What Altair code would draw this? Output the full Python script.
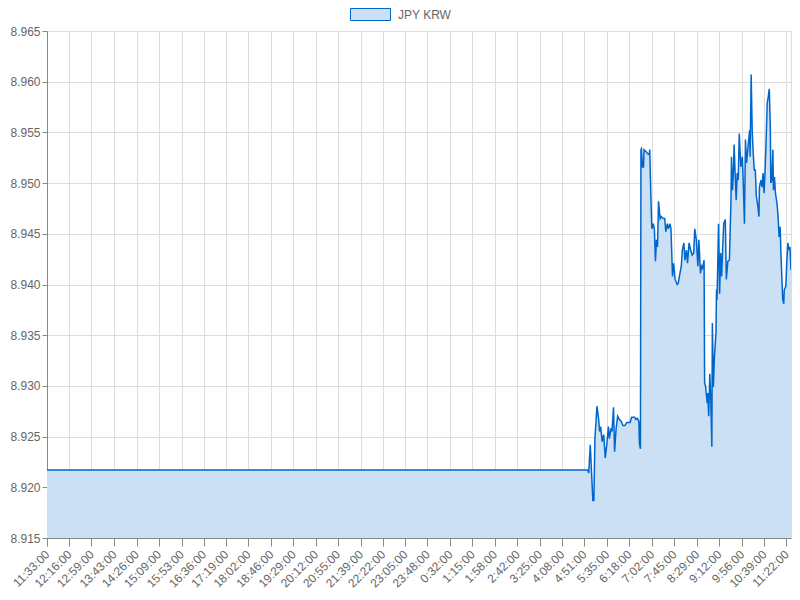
import altair as alt
import pandas as pd

SERIES = "JPY KRW"

tick_labels = ["11:33:00", "12:16:00", "12:59:00", "13:43:00", "14:26:00", "15:09:00",
               "15:53:00", "16:36:00", "17:19:00", "18:02:00", "18:46:00", "19:29:00",
               "20:12:00", "20:55:00", "21:39:00", "22:22:00", "23:05:00", "23:48:00",
               "0:32:00", "1:15:00", "1:58:00", "2:42:00", "3:25:00", "4:08:00",
               "4:51:00", "5:35:00", "6:18:00", "7:02:00", "7:45:00", "8:29:00",
               "9:12:00", "9:56:00", "10:39:00", "11:22:00"]

y_ticks = [8.915, 8.920, 8.925, 8.930, 8.935, 8.940, 8.945, 8.950, 8.955, 8.960, 8.965]

# minutes elapsed since 11:33:00
minutes = [0, 1045, 1047, 1050, 1055, 1057, 1059, 1063, 1066, 1068, 1070, 1073, 1076, 1079,
           1082, 1085, 1087, 1090, 1092, 1095, 1097, 1100, 1103, 1106, 1110, 1113, 1117,
           1121, 1127, 1130, 1136, 1138, 1141, 1144, 1145, 1147, 1148, 1149, 1151, 1153,
           1154, 1158, 1161, 1164, 1165, 1167, 1169, 1172, 1174, 1176, 1178, 1180, 1182,
           1185, 1187, 1191, 1194, 1196, 1199, 1201, 1204, 1206, 1209, 1211, 1214, 1218,
           1220, 1223, 1226, 1228, 1231, 1233, 1236, 1238, 1241, 1244, 1247, 1250, 1252,
           1255, 1258, 1260, 1263, 1265, 1267, 1270, 1271, 1273, 1276, 1277, 1279, 1281,
           1283, 1285, 1286, 1288, 1290, 1293, 1294, 1295, 1298, 1300, 1302, 1304, 1306,
           1308, 1311, 1313, 1316, 1319, 1321, 1322, 1323, 1325, 1327, 1328, 1330, 1332,
           1334, 1336, 1338, 1341, 1344, 1346, 1348, 1350, 1352, 1355, 1358, 1359, 1361,
           1363, 1365, 1367, 1369, 1371, 1374, 1376, 1377, 1380, 1382, 1384, 1386, 1388,
           1390, 1392, 1394, 1396, 1398, 1399, 1401, 1403, 1404, 1406, 1408, 1410, 1411,
           1413, 1415, 1417, 1419, 1422, 1424, 1425, 1428, 1430, 1432, 1434, 1436, 1438]

values = [8.9217, 8.9217, 8.9214, 8.9242, 8.9187, 8.9187, 8.9248, 8.9280, 8.9268, 8.9255,
          8.9260, 8.9245, 8.9252, 8.9229, 8.9242, 8.9260, 8.9248, 8.9258, 8.9255, 8.9279,
          8.9235, 8.9258, 8.9270, 8.9267, 8.9265, 8.9261, 8.9261, 8.9264, 8.9264, 8.9269,
          8.9269, 8.9267, 8.9268, 8.9265, 8.9243, 8.9238, 8.9533, 8.9534, 8.9516, 8.9516,
          8.9533, 8.9531, 8.9529, 8.9528, 8.9533, 8.9490, 8.9455, 8.9460, 8.9454, 8.9423,
          8.9444, 8.9437, 8.9482, 8.9465, 8.9467, 8.9465, 8.9465, 8.9452, 8.9460, 8.9455,
          8.9460, 8.9455, 8.9408, 8.9421, 8.9405, 8.9400, 8.9401, 8.9410, 8.9418, 8.9434,
          8.9441, 8.9424, 8.9434, 8.9421, 8.9441, 8.9434, 8.9429, 8.9431, 8.9455, 8.9444,
          8.9418, 8.9444, 8.9411, 8.9418, 8.9416, 8.9424, 8.9303, 8.9299, 8.9283, 8.9293,
          8.9270, 8.9312, 8.9286, 8.9240, 8.9362, 8.9299, 8.9329, 8.9352, 8.9395, 8.9385,
          8.9460, 8.9391, 8.9431, 8.9408, 8.9437, 8.9460, 8.9464, 8.9405, 8.9423, 8.9424,
          8.9464, 8.9483, 8.9526, 8.9493, 8.9516, 8.9538, 8.9510, 8.9483, 8.9510, 8.9503,
          8.9549, 8.9516, 8.9526, 8.9496, 8.9460, 8.9543, 8.9520, 8.9536, 8.9552, 8.9526,
          8.9607, 8.9552, 8.9529, 8.9513, 8.9513, 8.9487, 8.9477, 8.9467, 8.9496, 8.9503,
          8.9496, 8.9510, 8.9490, 8.9513, 8.9543, 8.9579, 8.9585, 8.9593, 8.9556, 8.9500,
          8.9503, 8.9533, 8.9493, 8.9506, 8.9490, 8.9483, 8.9480, 8.9467, 8.9447, 8.9457,
          8.9424, 8.9385, 8.9381, 8.9395, 8.9398, 8.9424, 8.9441, 8.9434, 8.9437, 8.9414]

START = 11 * 60 + 33


def offset(lbl):
    h, m, _ = map(int, lbl.split(":"))
    return (h * 60 + m - START) % 1440


tick_pos = [offset(l) for l in tick_labels]

df = pd.DataFrame({"t": minutes, "v": values, "series": SERIES})

label_expr = (
    "floor(((693 + datum.value) % 1440) / 60) + ':' + "
    "(((693 + datum.value) % 60) < 10 ? '0' : '') + ((693 + datum.value) % 60) + ':00'"
)

FONT = "Liberation Sans"
LINE = "#0066cc"
FILL = "#cce0f5"

x = alt.X("t:Q",
          scale=alt.Scale(domain=[0, 1438], nice=False, zero=False),
          axis=alt.Axis(values=tick_pos, labelExpr=label_expr, labelAngle=-45,
                        labelAlign="right", labelBaseline="middle", title=None,
                        tickSize=8, labelPadding=6, labelOverlap=False,
                        labelBound=False, labelFlush=False, labelFontSize=12,
                        labelFont=FONT, labelColor="#666"))
y = alt.Y("v:Q",
          scale=alt.Scale(domain=[8.915, 8.965], nice=False, zero=False),
          axis=alt.Axis(values=y_ticks, format=".3f", title=None, tickSize=5,
                        labelPadding=2, labelFontSize=12, labelFont=FONT,
                        labelColor="#666"))

area = alt.Chart(df).mark_area(interpolate="linear", clip=True).encode(
    x=x,
    y=y,
    y2=alt.datum(8.915),
    color=alt.Color("series:N", scale=alt.Scale(range=[FILL]),
                    legend=alt.Legend(title=None, orient="none", legendX=303,
                                      legendY=-37, symbolType="M-1,-0.3H1V0.3H-1Z",
                                      symbolSize=1600, symbolStrokeColor=LINE,
                                      symbolStrokeWidth=1, labelOffset=7,
                                      padding=0, labelFontSize=12,
                                      labelColor="#666", labelFont=FONT)),
)

line = alt.Chart(df).mark_line(interpolate="linear", color=LINE, strokeWidth=1.5,
                               clip=True).encode(x=x, y=y)

chart = alt.layer(area, line).properties(
    width=744, height=507,
    autosize=alt.AutoSizeParams(type="none"),
    padding={"left": 39, "top": 23, "right": 1, "bottom": 54},
).configure_view(stroke=None).configure_axis(
    gridColor="black", gridOpacity=0.1, tickColor="black", tickOpacity=0.1,
    domainColor="black", domainOpacity=0.22, zindex=1,
).configure(background="white")

chart.save("out.html", embed_options={"renderer": "svg", "actions": False})
